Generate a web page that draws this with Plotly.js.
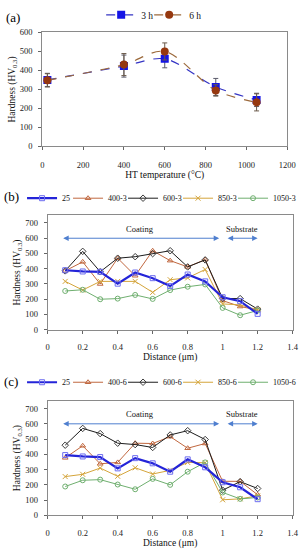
<!DOCTYPE html>
<html>
<head>
<meta charset="utf-8">
<script src="https://cdn.plot.ly/plotly-3.0.1.min.js"></script>
<style>
  html, body { margin: 0; padding: 0; background: #fff; }
  #chart { width: 302px; height: 550px; }
</style>
</head>
<body>
<div id="chart"></div>
<script>
// ---------- Panel (a): hardness vs HT temperature ----------
const temps = [25, 400, 600, 850, 1050];
const hard3h = [350, 423, 461, 313, 245];
const err3h = [35, 58, 47, 45, 35];
const hard6h = [348, 431, 500, 295, 232];
const err6h = [35, 58, 45, 30, 45];

// ---------- Panels (b) and (c): hardness profiles ----------
const distance = [0.1, 0.2, 0.3, 0.4, 0.5, 0.6, 0.7, 0.8, 0.9, 1.0, 1.1, 1.2];

const namesB = ['25', '400-3', '600-3', '850-3', '1050-3'];
const b25 = [390, 382, 380, 302, 375, 338, 286, 362, 317, 213, 187, 104];
const b400 = [386, 445, 300, 469, 354, 518, 453, 412, 460, 191, 152, 130];
const b600 = [386, 514, 380, 469, 479, 499, 518, 412, 458, 205, 204, 135];
const b850 = [317, 260, 317, 317, 317, 245, 328, 340, 395, 169, 163, 130];
const b1050 = [254, 262, 200, 204, 228, 202, 260, 282, 297, 143, 95, 126];

const namesC = ['25', '400-6', '600-6', '850-6', '1050-6'];
const c25 = [395, 386, 382, 308, 375, 341, 286, 367, 315, 217, 184, 106];
const c400 = [377, 456, 338, 347, 473, 471, 516, 440, 471, 223, 223, 135];
const c600 = [460, 570, 536, 473, 464, 445, 527, 555, 497, 165, 221, 176];
const c850 = [254, 269, 310, 256, 312, 271, 295, 347, 345, 102, 108, 128];
const c1050 = [189, 230, 234, 202, 171, 239, 200, 286, 347, 150, 108, 117];

const zoneLabels = ['Coating', 'Substrate'];
const zoneStart = [0.08, 1.02];
const zoneEnd = [0.98, 1.2];

// ---------- styles ----------
const FONT = 'Liberation Serif, Times New Roman, serif';
const profStyles = [
  {color: '#2424d8', mcolor: '#6c6cf0', symbol: 'square-open', width: 2.2, size: 5, lw: 1},
  {color: '#c0673f', mcolor: '#c0673f', symbol: 'triangle-up-open', width: 1, size: 5, lw: 10},
  {color: '#1c1c1c', mcolor: '#3a3a3a', symbol: 'diamond-open', width: 1, size: 5, lw: 10},
  {color: '#d4a43a', mcolor: '#d4a43a', symbol: 'x-thin-open', width: 1, size: 5, lw: 10},
  {color: '#6faf6f', mcolor: '#6faf6f', symbol: 'circle-open', width: 1, size: 5, lw: 22}
];

function profileTraces(names, series, ax, legendId) {
  return series.map((vals, i) => ({
    type: 'scatter', mode: 'lines+markers',
    x: distance, y: vals, name: names[i],
    xaxis: 'x' + ax, yaxis: 'y' + ax, legend: legendId,
    legendrank: i + 1, legendwidth: profStyles[i].lw,
    line: {color: profStyles[i].color, width: profStyles[i].width},
    marker: {symbol: profStyles[i].symbol, size: profStyles[i].size,
             color: profStyles[i].mcolor,
             line: {color: profStyles[i].mcolor, width: 1}}
  }));
}

const traces = [
  {
    type: 'scatter', mode: 'lines+markers', name: '3 h',
    x: temps, y: hard3h, xaxis: 'x', yaxis: 'y', legend: 'legend', legendrank: 1, legendwidth: 3,
    line: {color: '#3434c4', width: 1.2, dash: 'dash', shape: 'spline', smoothing: 0.9},
    marker: {symbol: 'square', size: 8, color: '#1414e6'},
    error_y: {type: 'data', array: err3h, visible: true, color: '#5a5a6a', thickness: 1, width: 2.5}
  },
  {
    type: 'scatter', mode: 'lines+markers', name: '6 h',
    x: temps, y: hard6h, xaxis: 'x', yaxis: 'y', legend: 'legend', legendrank: 2,
    line: {color: '#9c6a3c', width: 1.2, dash: 'dash', shape: 'spline', smoothing: 0.9},
    marker: {symbol: 'circle', size: 8, color: '#96380f'},
    error_y: {type: 'data', array: err6h, visible: true, color: '#6a5a4a', thickness: 1, width: 2.5}
  },
  ...profileTraces(namesB, [b25, b400, b600, b850, b1050], '2', 'legend2'),
  ...profileTraces(namesC, [c25, c400, c600, c850, c1050], '3', 'legend3')
];
// draw "25" on top like the reference
const order = [0, 1, 3, 4, 5, 6, 2, 8, 9, 10, 11, 7];

function axisBase(extra) {
  return Object.assign({
    showgrid: false, zeroline: false, showline: true, mirror: true,
    linecolor: '#8a8a8a', linewidth: 1,
    ticks: 'outside', ticklen: 3, tickcolor: '#666', tickwidth: 1,
    tickfont: {family: FONT, size: 8.5, color: '#222'},
    fixedrange: true
  }, extra);
}
const titleFont = {family: FONT, size: 9.5, color: '#111'};
const hvTitle = 'Hardness (HV<sub>0.3</sub>)';

const annotations = [
  {text: '(a)', x: 0.012, y: 0.977, xref: 'paper', yref: 'paper', xanchor: 'left', yanchor: 'middle',
   showarrow: false, font: {family: FONT, size: 13, color: '#000'}},
  {text: '(b)', x: 0.008, y: 0.649, xref: 'paper', yref: 'paper', xanchor: 'left', yanchor: 'middle',
   showarrow: false, font: {family: FONT, size: 13, color: '#000'}},
  {text: '(c)', x: 0.008, y: 0.309, xref: 'paper', yref: 'paper', xanchor: 'left', yanchor: 'middle',
   showarrow: false, font: {family: FONT, size: 13, color: '#000'}}
];
['2', '3'].forEach(ax => {
  zoneLabels.forEach((lab, i) => {
    annotations.push({
      text: lab, x: (zoneStart[i] + zoneEnd[i]) / 2, y: 662, xref: 'x' + ax, yref: 'y' + ax,
      showarrow: false, font: {family: FONT, size: 8.5, color: '#111'}
    });
    annotations.push({
      text: '', x: zoneEnd[i], y: 600, ax: zoneStart[i], ay: 600,
      xref: 'x' + ax, yref: 'y' + ax, axref: 'x' + ax, ayref: 'y' + ax,
      showarrow: true, arrowhead: 2, arrowside: 'end+start', arrowsize: 1.1, arrowwidth: 1,
      arrowcolor: '#4f7fcf', standoff: 0, startstandoff: 0
    });
  });
});

const legendBase = {
  orientation: 'h', yanchor: 'middle', xanchor: 'left',
  font: {family: FONT, size: 8, color: '#111'},
  bgcolor: 'rgba(0,0,0,0)', itemwidth: 30, tracegroupgap: 0, borderwidth: 0
};

const layout = {
  width: 302, height: 550,
  margin: {l: 0, r: 0, t: 0, b: 0},
  paper_bgcolor: '#fff', plot_bgcolor: '#fff',
  showlegend: true,
  font: {family: FONT},
  xaxis: axisBase({domain: [0.140, 0.951], range: [0, 1200], dtick: 200, anchor: 'y', ticklabelstandoff: 7,
    title: {text: 'HT temperature (°C)', font: titleFont, standoff: 0}}),
  yaxis: axisBase({domain: [0.7405, 0.9496], range: [0, 600], dtick: 100, anchor: 'x', ticklabelstandoff: 4,
    title: {text: hvTitle, font: titleFont, standoff: 2}}),
  xaxis2: axisBase({domain: [0.158, 0.969], range: [0, 1.4], dtick: 0.2, anchor: 'y2', ticklabelstandoff: 6,
    title: {text: 'Distance (μm)', font: titleFont, standoff: 0}}),
  yaxis2: axisBase({domain: [0.4042, 0.6140], range: [0, 750], tickvals: [0, 100, 200, 300, 400, 500, 600, 700], anchor: 'x2', ticklabelstandoff: 4,
    title: {text: hvTitle, font: titleFont, standoff: 2}}),
  xaxis3: axisBase({domain: [0.158, 0.969], range: [0, 1.4], dtick: 0.2, anchor: 'y3', ticklabelstandoff: 6,
    title: {text: 'Distance (μm)', font: titleFont, standoff: 0}}),
  yaxis3: axisBase({domain: [0.0636, 0.2735], range: [0, 750], tickvals: [0, 100, 200, 300, 400, 500, 600, 700], anchor: 'x3', ticklabelstandoff: 4,
    title: {text: hvTitle, font: titleFont, standoff: 2}}),
  legend: Object.assign({}, legendBase, {x: 0.335, y: 0.982, font: {family: FONT, size: 9.5, color: '#111'}}),
  legend2: Object.assign({}, legendBase, {x: 0.073, y: 0.6455}),
  legend3: Object.assign({}, legendBase, {x: 0.073, y: 0.3078}),
  annotations: annotations
};

Plotly.newPlot('chart', order.map(i => traces[i]), layout, {staticPlot: true, displayModeBar: false});
</script>
</body>
</html>
